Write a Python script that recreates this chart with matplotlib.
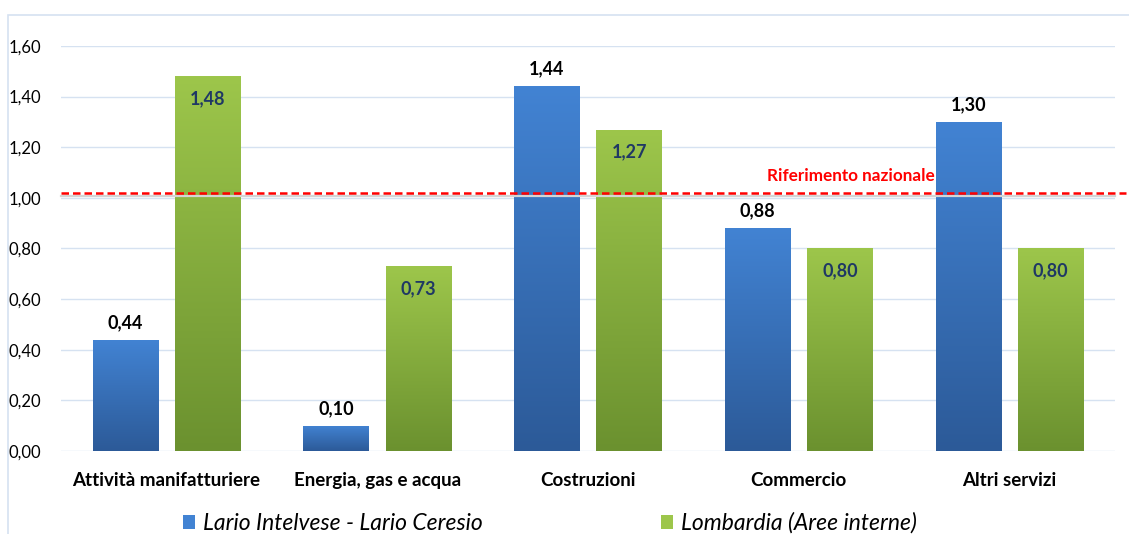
import matplotlib
matplotlib.use("Agg")
import matplotlib.pyplot as plt
import numpy as np
from matplotlib.colors import LinearSegmentedColormap
from matplotlib.patches import Patch, Rectangle

categories = ["Attività manifatturiere", "Energia, gas e acqua", "Costruzioni",
              "Commercio", "Altri servizi"]
lario = [0.44, 0.10, 1.44, 0.88, 1.30]
lombardia = [1.48, 0.73, 1.27, 0.80, 0.80]
riferimento = 1.02
yticks = [0.0, 0.2, 0.4, 0.6, 0.8, 1.0, 1.2, 1.4, 1.6]

series_names = ["Lario Intelvese - Lario Ceresio", "Lombardia (Aree interne)"]

BLUE_TOP, BLUE_BOT = "#4283d3", "#2c5a98"
GREEN_TOP, GREEN_BOT = "#9dc64b", "#6b912f"

plt.rcParams["font.family"] = ["Lato", "DejaVu Sans"]

fig = plt.figure(figsize=(11.29, 5.34), dpi=100)
ax = fig.add_axes([0.054, 0.1554, 0.9336, 0.7585])

x = np.arange(len(categories))
bw = 0.31
off = 0.195

grad = np.linspace(1, 0, 256).reshape(-1, 1)


def grad_bars(xs, vals, top, bot):
    cmap = LinearSegmentedColormap.from_list("g", [bot, top])
    for xc, v in zip(xs, vals):
        r = Rectangle((xc - bw / 2, 0), bw, v, facecolor=top, edgecolor="none", zorder=2)
        ax.add_patch(r)
        im = ax.imshow(grad, cmap=cmap, aspect="auto", vmin=0, vmax=1,
                       extent=[xc - bw / 2, xc + bw / 2, 0, v], zorder=3)
        im.set_clip_path(r)


grad_bars(x - off, lario, BLUE_TOP, BLUE_BOT)
grad_bars(x + off, lombardia, GREEN_TOP, GREEN_BOT)

for xc, v in zip(x - off, lario):
    ax.text(xc, v + 0.035, f"{v:.2f}".replace(".", ","), ha="center", va="bottom",
            fontsize=13, fontweight="bold", color="black", zorder=5)
for xc, v in zip(x + off, lombardia):
    ax.text(xc, v - 0.055, f"{v:.2f}".replace(".", ","), ha="center", va="top",
            fontsize=13, fontweight="bold", color="#1f3864", zorder=5)

ax.set_xlim(-0.5, len(categories) - 0.5)
ax.set_ylim(0, 1.6)
ax.set_yticks(yticks)
ax.set_yticklabels([f"{t:.2f}".replace(".", ",") for t in yticks], fontsize=12)
ax.set_xticks(x)
ax.set_xticklabels(categories, fontsize=13.5, fontweight="bold")
ax.tick_params(axis="x", length=0, pad=15)
ax.tick_params(axis="y", length=0, pad=14)
ax.grid(axis="y", color="#d6e2f1", linewidth=1.0, zorder=0)
ax.set_axisbelow(True)
for s in ax.spines.values():
    s.set_visible(False)

# reference line with faint shadow
ax.axhline(riferimento - 0.012, color="#d4d4d4", linewidth=1.6, zorder=5, clip_on=False)
ax.plot([-0.5, 4.55], [riferimento, riferimento], color="#ff0000", linewidth=1.8,
        linestyle=(0, (3, 1.6)), zorder=6, clip_on=False)
ax.text(3.245, riferimento + 0.035, "Riferimento nazionale", color="#ff0000",
        fontsize=12.3, fontweight="bold", ha="center", va="bottom", zorder=6)

# chart border
fig.add_artist(Rectangle((8 / 1129, -0.01), 1.1, 1 - 15 / 534 + 0.01,
                         transform=fig.transFigure, fill=False,
                         edgecolor="#d6e2f1", linewidth=1.2))

handles = [Patch(facecolor=BLUE_TOP, edgecolor="none", label=series_names[0]),
           Patch(facecolor=GREEN_TOP, edgecolor="none", label=series_names[1])]
fig.legend(handles=handles, loc="center", bbox_to_anchor=(0.487, 0.02), ncol=2,
           frameon=False, prop={"size": 16.5, "style": "italic"},
           handlelength=0.5, handleheight=0.6, handletextpad=0.35, columnspacing=7.8)

fig.savefig("out.png", dpi=100)
